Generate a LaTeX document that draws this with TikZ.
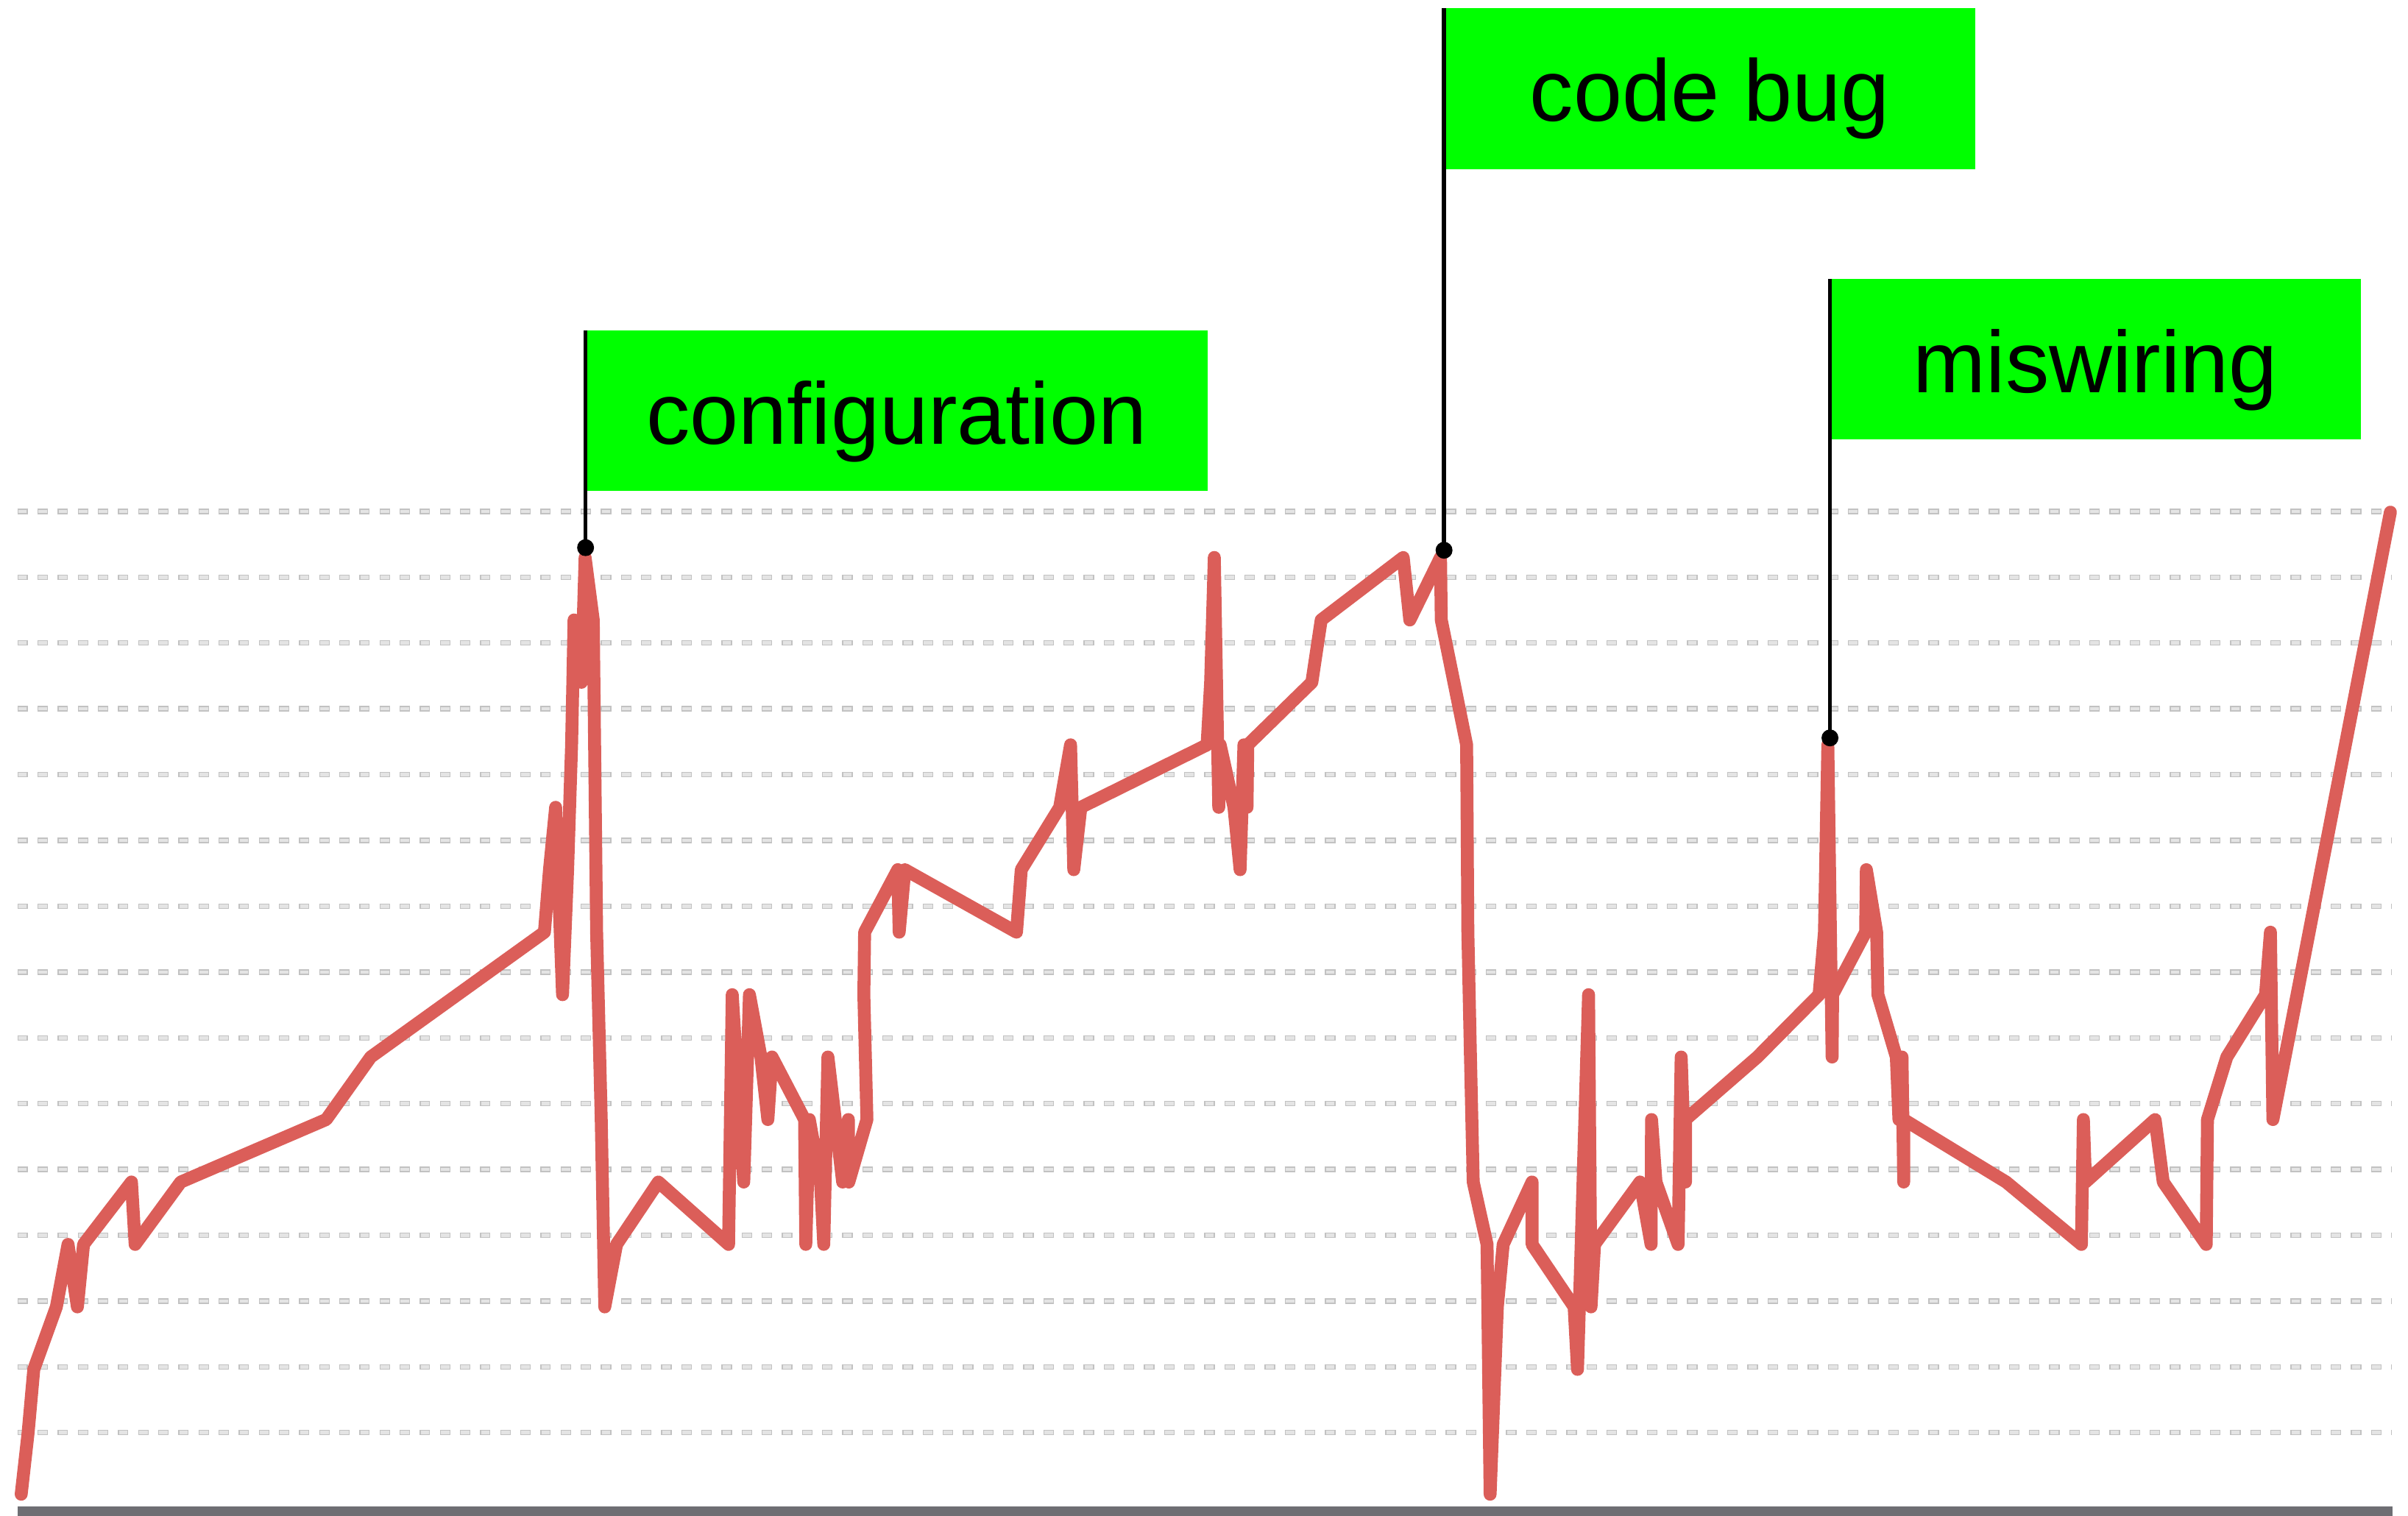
\documentclass[tikz,border=0pt]{standalone}
\usepackage{fontspec}
\setmainfont{Liberation Sans}
\definecolor{linered}{HTML}{DB5E59}
\definecolor{flaggreen}{HTML}{00FF00}
\definecolor{gridout}{HTML}{C2C2C2}
\definecolor{gridin}{HTML}{E4E4E4}
\definecolor{axisgray}{HTML}{6E6E73}
\begin{document}
\begin{tikzpicture}[x=0.020867cm, y=-0.020867cm,
  gridouter/.style={draw=gridout, line width=2.1pt, dash pattern=on 4.04pt off 3.74pt},
  gridinner/.style={draw=gridin, line width=1.3pt, dash pattern=on 3.32pt off 4.46pt},
  redline/.style={draw=linered, line width=5pt, line join=round, line cap=round},
  flagbox/.style={rectangle, fill=flaggreen, draw=none, inner sep=0pt, outer sep=0pt, anchor=north west, minimum height=2.181cm},
  labeltext/.style={anchor=base, inner sep=0pt, font=\fontsize{33.8}{40}\selectfont, text=black},
  dotnode/.style={circle, fill=black, inner sep=0pt, minimum size=0.23cm},
  flagpole/.style={draw=black, line width=1.6pt}]
\useasboundingbox (0,0) rectangle (1568,987);
% grid
\foreach \k in {0,...,14} {
  \draw[gridouter] (11.3,{333+42.85*\k}) -- (1557.5,{333+42.85*\k});
  \draw[gridinner] (11.9,{333+42.85*\k}) -- (1557,{333+42.85*\k});
}
% axis
\fill[axisgray] (11.3,981) rectangle (1558,987);
% series
\draw[redline] plot coordinates {
(13.8,973) (18.3,933) (22,891.7) (36.7,851) (44.3,810.3) (50.4,851) (54.4,810.3)
(85.6,769.7) (88,810.3) (117.7,769.7) (212.4,729) (241.4,688.3) (354.5,607)
(357.8,566.3) (361.8,525.7) (366.3,647.7) (369.6,566.3) (372.2,485) (373.8,403.7)
(378.6,444.3) (381,363) (386.3,403.7) (388.5,607) (390.5,688.3) (391.5,729)
(393.8,851) (401.5,810.3) (428.7,769.7) (474.4,810.3) (476.8,647.7) (484.3,769.7)
(488,647.7) (495.5,688.3) (500,729) (502.7,688.3) (523.9,729) (524.7,810.3)
(527,729) (534.3,769.7) (536.4,810.3) (539.1,688.3) (548.7,769.7) (552.4,729)
(552.7,769.7) (564.5,729) (562.5,647.7) (563,607) (584.6,566.3) (585.5,607)
(589.2,566.3) (661.9,607) (665,566.3) (690,525.7) (697.1,485) (699.2,566.3)
(703.8,525.7) (786,485) (788.3,444.3) (790.7,363) (793.6,525.7) (794.5,485)
(803.5,525.7) (807.5,566.3) (810,485) (812,525.7) (812.5,485) (854.2,444.3)
(860.3,403.7) (913.7,363) (918,403.7) (938,363) (938.5,403.7) (955,485)
(955.8,607) (957.5,688.3) (959.3,769.7) (968.3,810.3) (970.3,973) (975,851)
(978.8,810.3) (997.6,769.7) (997.6,810.3) (1025,851) (1027.2,891.7) (1034.4,647.7)
(1036,851) (1038.3,810.3) (1067.9,769.7) (1075.1,810.3) (1075.4,729) (1078.3,769.7)
(1092.7,810.3) (1094.7,688.3) (1097.5,769.7) (1097.5,729) (1144.3,688.3)
(1184.5,647.7) (1188,607) (1190.2,485) (1193,688.3) (1193.3,647.7) (1214.8,607)
(1215.3,566.3) (1222,607) (1222.8,647.7) (1234.8,688.3) (1236.5,729) (1238.5,688.3)
(1239.6,769.7) (1239.6,729) (1306.3,769.7) (1355.3,810.3) (1356.6,729) (1358,769.7)
(1403.3,729) (1408.6,769.7) (1436.6,810.3) (1437.4,729) (1450,688.3) (1475.2,647.7)
(1478.4,607) (1480,729) (1556.5,333.5)
};
% flags
\node[flagbox, minimum width=8.451cm] (cfgbox) at (381.3,215) {};
\node[flagbox, minimum width=7.220cm] (bugbox) at (940.3,5.5) {};
\node[flagbox, minimum width=7.220cm] (wirebox) at (1191.6,181.5) {};
\node[labeltext] (cfgtext) at (583.8,289.3) {configuration};
\node[labeltext] (bugtext) at (1113.2,79) {code bug};
\node[labeltext] (wiretext) at (1364.4,255.5) {miswiring};
\node[dotnode] (cfgdot) at (381.3,356.6) {};
\node[dotnode] (bugdot) at (940.3,358.3) {};
\node[dotnode] (wiredot) at (1191.6,480.5) {};
\draw[flagpole] (cfgbox.north west) -- (cfgdot.center);
\draw[flagpole] (bugbox.north west) -- (bugdot.center);
\draw[flagpole] (wirebox.north west) -- (wiredot.center);
\end{tikzpicture}
\end{document}
